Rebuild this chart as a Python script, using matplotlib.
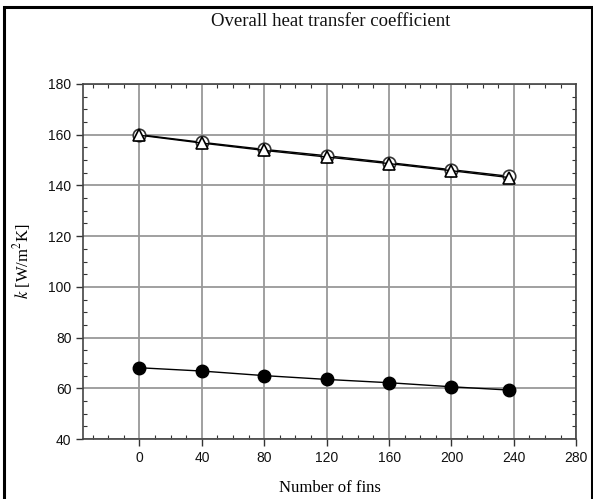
import matplotlib
matplotlib.use("Agg")
import matplotlib.pyplot as plt
from matplotlib.patches import Rectangle
from matplotlib.ticker import MultipleLocator

plt.rcParams['mathtext.fontset'] = 'stix'

fins = [0, 40, 80, 120, 160, 200, 237]
k_circle_open = [160.0, 157.0, 154.2, 151.7, 149.0, 146.2, 143.6]
k_triangle_open = [159.8, 156.7, 153.8, 151.2, 148.6, 145.8, 143.1]
k_circle_filled = [68.1, 66.8, 65.0, 63.5, 62.2, 60.6, 59.3]

xticks = [0, 40, 80, 120, 160, 200, 240, 280]
yticks = [40, 60, 80, 100, 120, 140, 160, 180]

fig = plt.figure(figsize=(5.93, 4.99), dpi=100)
ax = fig.add_axes([0.1405, 0.1202, 0.8313, 0.7115])

ax.plot(fins, k_circle_open, color='black', lw=1.0, marker='o', ms=9,
        mfc='white', mec='#333333', mew=1.2, zorder=3)
ax.plot(fins, k_triangle_open, color='black', lw=1.0, marker='^', ms=8,
        mfc='white', mec='black', mew=1.2, zorder=4)
ax.plot(fins, k_circle_filled, color='black', lw=1.0, marker='o', ms=9,
        mfc='black', mec='black', zorder=3)

ax.set_xlim(-36, 280)
ax.set_ylim(40, 180)
ax.set_xticks(xticks)
ax.set_yticks(yticks)
ax.xaxis.set_minor_locator(MultipleLocator(10))
ax.yaxis.set_minor_locator(MultipleLocator(5))
ax.grid(True, which='major', color='#999999', lw=1.3)
ax.set_axisbelow(True)
ax.tick_params(which='major', direction='out', length=5, width=1, color='#333333',
               labelsize=10, labelfontfamily='Liberation Sans', labelcolor='#111111')
ax.tick_params(which='minor', direction='in', length=3, width=0.8, color='#333333',
               top=True, right=True)
for s in ax.spines.values():
    s.set_color('#444444')
    s.set_linewidth(1.2)

ax.set_xlabel('Number of fins', family='Liberation Serif', fontsize=12, labelpad=11)
ax.set_ylabel(r'$k$ [W/m$^2$K]', family='Liberation Serif', fontsize=12, labelpad=11)
fig.text(0.557, 0.957, 'Overall heat transfer coefficient', family='Liberation Serif',
         fontsize=13.5, ha='center', va='center', color='#111111')

fig.patches.append(Rectangle((0.006, -0.05), 0.992, 1.036, transform=fig.transFigure,
                             fill=False, edgecolor='black', lw=2.2))

fig.savefig('out.png', dpi=100)
